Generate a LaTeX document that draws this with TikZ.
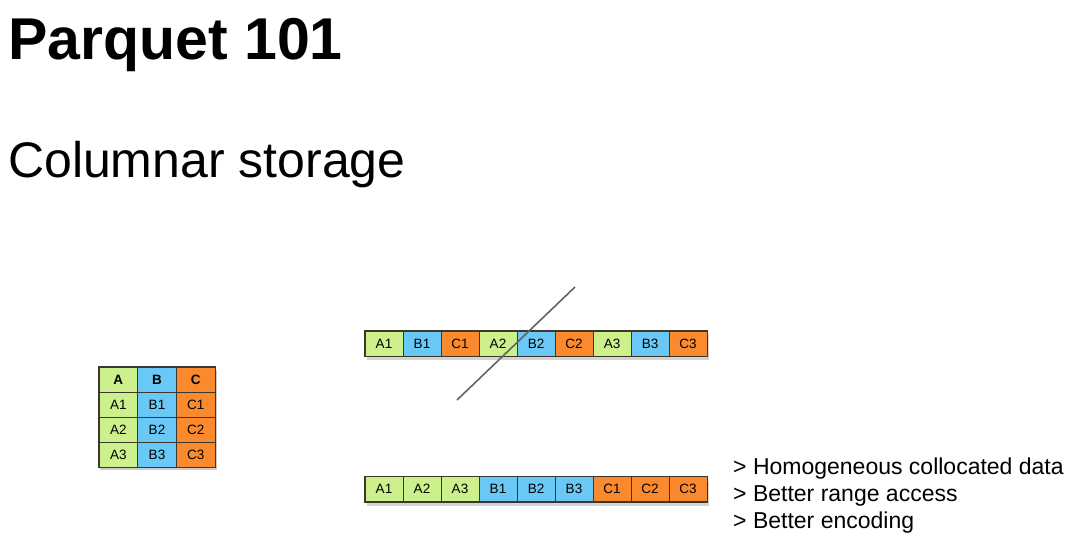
\documentclass[tikz,border=0pt]{standalone}
\usepackage{fontspec}
\setmainfont{Liberation Sans}
\usetikzlibrary{shadows}
\definecolor{colA}{RGB}{204,240,140}
\definecolor{colB}{RGB}{105,200,245}
\definecolor{colC}{RGB}{250,138,45}
\definecolor{cutgray}{RGB}{100,100,100}
\definecolor{edge}{RGB}{60,55,45}
\tikzset{
  cell/.style={draw=edge, line width=0.7pt, minimum width=38pt, minimum height=25pt,
    inner sep=0pt, font=\fontsize{13.5}{13.5}\selectfont},
  hcell/.style={cell, font=\fontsize{13.5}{13.5}\selectfont\bfseries},
  shadowcell/.style={cell, drop shadow={opacity=0.35, shadow xshift=1.5pt, shadow yshift=-4pt}},
  caption/.style={anchor=base west, inner sep=0pt}
}
\begin{document}
\begin{tikzpicture}[x=1pt,y=1pt]
\useasboundingbox (0,0) rectangle (1071,-536);
% headings
\node [caption, font=\fontsize{59}{59}\selectfont\bfseries] (title) at (8,-59) {Parquet 101};
\node [caption, font=\fontsize{50}{50}\selectfont] (sub) at (8,-177) {Columnar storage};
% table
\fill [black, opacity=0.2] (100,-370) rectangle (217,-470);
\node [hcell, fill=colA, minimum width=38.7pt] (hA) at (118.3,-379.5) {A};
\node [hcell, fill=colB, minimum width=38.7pt] (hB) at (157,-379.5) {B};
\node [hcell, fill=colC, minimum width=38.7pt] (hC) at (195.7,-379.5) {C};
\node [cell, fill=colA, minimum width=38.7pt] (a1) at (118.3,-404.5) {A1};
\node [cell, fill=colB, minimum width=38.7pt] (b1) at (157,-404.5) {B1};
\node [cell, fill=colC, minimum width=38.7pt] (c1) at (195.7,-404.5) {C1};
\node [cell, fill=colA, minimum width=38.7pt] (a2) at (118.3,-429.5) {A2};
\node [cell, fill=colB, minimum width=38.7pt] (b2) at (157,-429.5) {B2};
\node [cell, fill=colC, minimum width=38.7pt] (c2) at (195.7,-429.5) {C2};
\node [cell, fill=colA, minimum width=38.7pt] (a3) at (118.3,-454.5) {A3};
\node [cell, fill=colB, minimum width=38.7pt] (b3) at (157,-454.5) {B3};
\node [cell, fill=colC, minimum width=38.7pt] (c3) at (195.7,-454.5) {C3};
\draw [line width=1.3pt, edge] (hA.north west) rectangle (c3.south east);
% row layout
\node [shadowcell, fill=colA] (r1) at (384,-343.5) {A1};
\node [shadowcell, fill=colB] (r2) at (422,-343.5) {B1};
\node [shadowcell, fill=colC] (r3) at (460,-343.5) {C1};
\node [shadowcell, fill=colA] (r4) at (498,-343.5) {A2};
\node [shadowcell, fill=colB] (r5) at (536,-343.5) {B2};
\node [shadowcell, fill=colC] (r6) at (574,-343.5) {C2};
\node [shadowcell, fill=colA] (r7) at (612,-343.5) {A3};
\node [shadowcell, fill=colB] (r8) at (650,-343.5) {B3};
\node [shadowcell, fill=colC] (r9) at (688,-343.5) {C3};
\draw [line width=1.3pt, edge] (r1.north west) rectangle (r9.south east);
\coordinate (cutlow) at (457,-400);
\coordinate (cuthigh) at (575,-287);
\draw [cutgray, line width=1.6pt] (cutlow) -- (cuthigh);
% column layout
\node [shadowcell, fill=colA] (k1) at (384,-489) {A1};
\node [shadowcell, fill=colA] (k2) at (422,-489) {A2};
\node [shadowcell, fill=colA] (k3) at (460,-489) {A3};
\node [shadowcell, fill=colB] (k4) at (498,-489) {B1};
\node [shadowcell, fill=colB] (k5) at (536,-489) {B2};
\node [shadowcell, fill=colB] (k6) at (574,-489) {B3};
\node [shadowcell, fill=colC] (k7) at (612,-489) {C1};
\node [shadowcell, fill=colC] (k8) at (650,-489) {C2};
\node [shadowcell, fill=colC] (k9) at (688,-489) {C3};
\draw [line width=1.3pt, edge] (k1.north west) rectangle (k9.south east);
% notes
\node [caption, font=\fontsize{23}{23}\selectfont] (n1) at (733,-474) {> Homogeneous collocated data};
\node [caption, font=\fontsize{23}{23}\selectfont] (n2) at (733,-501) {> Better range access};
\node [caption, font=\fontsize{23}{23}\selectfont] (n3) at (733,-528) {> Better encoding};
\end{tikzpicture}
\end{document}
